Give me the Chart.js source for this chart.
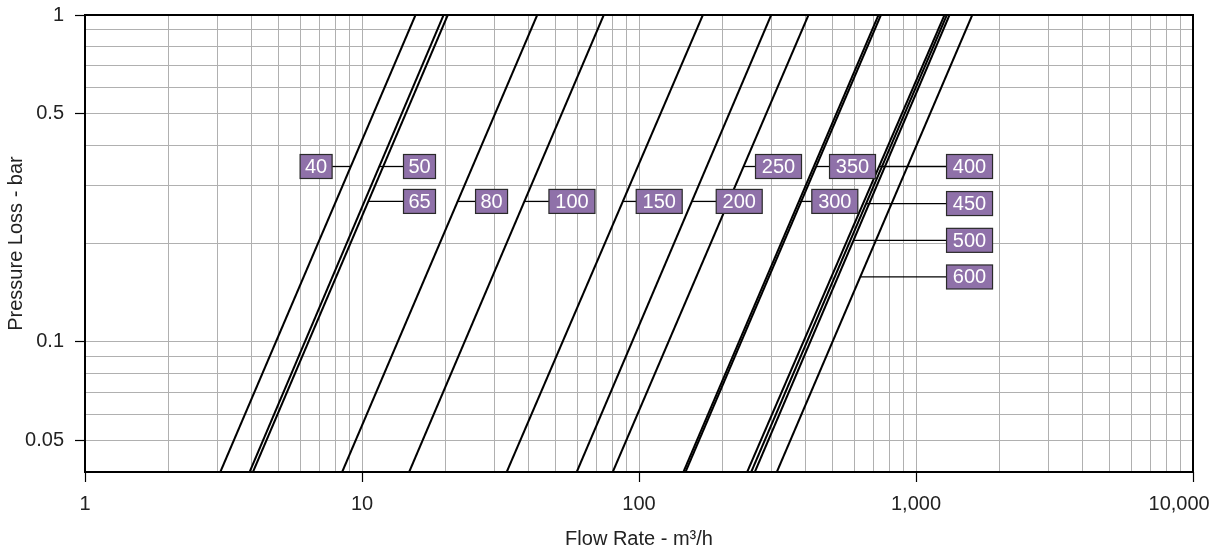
<!DOCTYPE html>
<html>
<head>
<meta charset="utf-8">
<script src="https://cdn.jsdelivr.net/npm/chart.js@4.4.1/dist/chart.umd.min.js"></script>
<style>
html,body{margin:0;padding:0;background:#fff;}
#wrap{width:1217px;height:551px;position:relative;}
</style>
</head>
<body>
<div id="wrap"><canvas id="c"></canvas></div>
<script>
// Nominal diameters (DN) of each curve
const diameters = [40, 50, 65, 80, 100, 150, 200, 250, 300, 350, 400, 450, 500, 600];
// Flow rate (m3/h) where each curve meets the lowest pressure (0.04 bar)
const flowAtLowPressure = [3.08, 3.93, 4.04, 8.48, 14.8, 33.3, 59.6, 80.4, 144.7, 147.2, 245.8, 254.2, 261.9, 314.5];
// Flow rate (m3/h) where each curve meets the highest pressure (1 bar)
const flowAtHighPressure = [15.6, 19.7, 20.4, 42.9, 74.6, 170, 300, 409, 732, 747, 1267, 1292, 1321, 1596];
const pressureRange = [0.04, 1];

// Label boxes: pressure level of the leader line and flow value of the box edge
const labelPressure = [0.344, 0.344, 0.269, 0.269, 0.269, 0.269, 0.269, 0.344, 0.269, 0.344, 0.344, 0.265, 0.2045, 0.158];
const labelFlow = [7.80, 14.12, 14.12, 25.7, 47.3, 97.7, 190, 263.4, 420.6, 487.3, 1289, 1289, 1289, 1289];
const labelSide = ['left','right','right','right','right','right','right','right','right','right','right','right','right','right'];

// Axis ticks
const xTickValues = [1,2,3,4,5,6,7,8,9,10,20,30,40,50,60,70,80,90,100,200,300,400,500,600,700,800,900,1000,2000,3000,4000,5000,6000,7000,8000,9000,10000];
const xLabeledValues = [1, 10, 100, 1000, 10000];
const xTickLabels = ['1', '10', '100', '1,000', '10,000\u00a0\u00a0\u00a0\u00a0\u00a0'];
const yTickValues = [0.04,0.05,0.06,0.07,0.08,0.09,0.1,0.2,0.3,0.4,0.5,0.6,0.7,0.8,0.9,1];
const yLabeledValues = [0.05, 0.1, 0.5, 1];
const yTickLabels = ['0.05', '0.1', '0.5', '1'];

const FONT = '"Liberation Sans", Arial, Helvetica, sans-serif';

function labelFor(vals, labels, v) {
  const i = vals.findIndex(a => Math.abs(a - v) < 1e-9 * Math.max(1, a));
  return i >= 0 ? labels[i] : '';
}

const framePlugin = {
  id: 'frame',
  afterDatasetsDraw(chart) {
    const {ctx, chartArea: a, scales: {x, y}} = chart;
    ctx.save();
    ctx.strokeStyle = '#000';
    ctx.lineWidth = 2;
    ctx.strokeRect(a.left, a.top, a.right - a.left, a.bottom - a.top);

    ctx.font = '20px ' + FONT;
    ctx.textAlign = 'center';
    ctx.textBaseline = 'middle';
    diameters.forEach((d, i) => {
      const meta = chart.getDatasetMeta(i);
      const p0 = meta.data[0], p1 = meta.data[1];
      const py = y.getPixelForValue(labelPressure[i]);
      const lx = p0.x + (p1.x - p0.x) * (py - p0.y) / (p1.y - p0.y);
      const bx = x.getPixelForValue(labelFlow[i]);
      const text = String(d);
      const w = text.length === 2 ? 32 : 46;
      const h = 24;
      const left = labelSide[i] === 'left' ? bx - w : bx;
      // leader line
      ctx.beginPath();
      ctx.strokeStyle = '#000';
      ctx.lineWidth = 1.3;
      ctx.moveTo(lx, py);
      ctx.lineTo(bx, py);
      ctx.stroke();
      // box
      ctx.fillStyle = '#8f71a9';
      ctx.fillRect(left, py - h / 2, w, h);
      ctx.strokeStyle = '#2a2a2a';
      ctx.lineWidth = 1.2;
      ctx.strokeRect(left, py - h / 2, w, h);
      ctx.fillStyle = '#fff';
      ctx.fillText(text, left + w / 2, py + 1);
    });
    ctx.restore();
  }
};

new Chart(document.getElementById('c'), {
  type: 'scatter',
  data: {
    datasets: diameters.map((d, i) => ({
      label: 'DN ' + d,
      data: [
        {x: flowAtLowPressure[i], y: pressureRange[0]},
        {x: flowAtHighPressure[i], y: pressureRange[1]}
      ],
      showLine: true,
      borderColor: '#000',
      borderWidth: 2,
      pointRadius: 0,
      pointHoverRadius: 0,
      fill: false
    }))
  },
  options: {
    responsive: true,
    maintainAspectRatio: false,
    animation: false,
    events: [],
    layout: {padding: {top: 15, right: 24, left: 0, bottom: 0}},
    plugins: {legend: {display: false}, tooltip: {enabled: false}},
    scales: {
      x: {
        type: 'logarithmic',
        min: 1,
        max: 10000,
        afterBuildTicks(s) { s.ticks = xTickValues.map(v => ({value: v})); },
        afterFit(s) { s.height = 79; s.paddingLeft = 0; s.paddingRight = 0; },
        ticks: {
          autoSkip: false, maxRotation: 0, minRotation: 0, padding: 10,
          color: '#222', font: {family: FONT, size: 20},
          callback: (v) => labelFor(xLabeledValues, xTickLabels, v)
        },
        grid: {
          color: '#b0b0b0', lineWidth: 1, tickLength: 10, tickWidth: 1.2,
          tickColor: (c) => (c.tick && labelFor(xLabeledValues, xTickLabels, c.tick.value) !== '') ? '#000' : 'rgba(0,0,0,0)'
        },
        border: {display: false},
        title: {display: true, text: 'Flow Rate - m³/h', color: '#222', font: {family: FONT, size: 20}, padding: {top: 0, bottom: 0}}
      },
      y: {
        type: 'logarithmic',
        min: 0.04,
        max: 1,
        afterBuildTicks(s) { s.ticks = yTickValues.map(v => ({value: v})); },
        afterFit(s) { s.width = 85; s.paddingTop = 0; s.paddingBottom = 0; },
        ticks: {
          autoSkip: false, padding: 11,
          color: '#222', font: {family: FONT, size: 20},
          callback: (v) => labelFor(yLabeledValues, yTickLabels, v)
        },
        grid: {
          color: '#b0b0b0', lineWidth: 1, tickLength: 10, tickWidth: 1.2,
          tickColor: (c) => (c.tick && labelFor(yLabeledValues, yTickLabels, c.tick.value) !== '') ? '#000' : 'rgba(0,0,0,0)'
        },
        border: {display: false},
        title: {display: true, text: 'Pressure Loss - bar', color: '#222', font: {family: FONT, size: 20}, padding: {top: 4, bottom: 0}}
      }
    }
  },
  plugins: [framePlugin]
});
</script>
</body>
</html>
